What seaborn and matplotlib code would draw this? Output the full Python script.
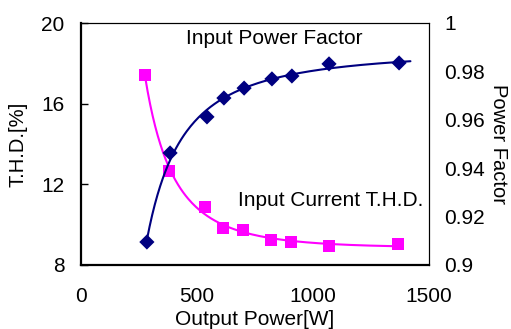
import numpy as np
import pandas as pd
import seaborn as sns
import matplotlib
matplotlib.use("Agg")
import matplotlib.pyplot as plt

# values
thd_power = [276, 379, 534, 612, 698, 819, 905, 1069, 1366]
thd_value = [17.4, 12.66, 10.88, 9.83, 9.73, 9.24, 9.14, 8.94, 9.04]
pf_power = [284, 384, 543, 616, 703, 823, 909, 1069, 1371]
pf_value = [0.9095, 0.9463, 0.9612, 0.969, 0.9731, 0.9769, 0.9781, 0.9831, 0.9835]

x_ticks = [0, 500, 1000, 1500]
thd_ticks = [8, 12, 16, 20]
pf_ticks = [0.9, 0.92, 0.94, 0.96, 0.98, 1]

NAVY = "#000080"
PINK = "#FF00FF"

sns.set_theme(style="white")
plt.rcParams["font.family"] = ["Liberation Sans", "DejaVu Sans"]
plt.rcParams.update({"text.color": "black", "axes.labelcolor": "black",
                     "xtick.color": "black", "ytick.color": "black"})

thd = pd.DataFrame({"power": thd_power, "thd": thd_value})
pf = pd.DataFrame({"power": pf_power, "pf": pf_value})

# trend curves fitted to the points
c1 = np.polyfit(1.0 / thd["power"], thd["thd"], 2)
xs1 = np.linspace(thd["power"].min(), thd["power"].max(), 200)
trend_thd = pd.DataFrame({"power": xs1, "thd": np.polyval(c1, 1.0 / xs1)})

c2 = np.polyfit(1.0 / pf["power"], pf["pf"], 2)
xs2 = np.linspace(pf["power"].min(), 1420, 200)
trend_pf = pd.DataFrame({"power": xs2, "pf": np.polyval(c2, 1.0 / xs2)})

fig = plt.figure(figsize=(5.11, 3.29), dpi=100)
ax = fig.add_axes([81 / 511, 64 / 329, 348 / 511, 242 / 329])
ax2 = ax.twinx()

sns.lineplot(data=trend_thd, x="power", y="thd", ax=ax, color=PINK, lw=1.5)
sns.scatterplot(data=thd, x="power", y="thd", ax=ax, marker="s", s=75,
                color=PINK, edgecolor="none", zorder=3)
sns.lineplot(data=trend_pf, x="power", y="pf", ax=ax2, color=NAVY, lw=1.5)
sns.scatterplot(data=pf, x="power", y="pf", ax=ax2, marker="D", s=60,
                color=NAVY, edgecolor="none", zorder=3)

ax.set_xlim(0, 1500)
ax.set_ylim(8, 20)
ax2.set_ylim(0.9, 1.0)
ax.set_xticks(x_ticks)
ax.set_yticks(thd_ticks)
ax2.set_yticks(pf_ticks)
ax2.set_yticklabels([f"{t:g}" for t in pf_ticks])

for a in (ax, ax2):
    for s in a.spines.values():
        s.set_color("black")
        s.set_linewidth(0.8)
ax.spines["left"].set_linewidth(1.6)
ax.spines["bottom"].set_linewidth(1.6)
ax2.spines["left"].set_visible(False)
ax2.spines["bottom"].set_visible(False)

ax.tick_params(axis="x", direction="in", length=5, width=1, pad=16, labelsize=15)
ax.tick_params(axis="y", direction="in", length=5, width=1, pad=12, labelsize=15)
ax2.tick_params(axis="y", length=0, pad=11, labelsize=15)

ax.set_xlabel("Output Power[W]", fontsize=15)
ax.set_ylabel("T.H.D.[%]", fontsize=14.5)
ax2.set_ylabel("Power Factor", fontsize=14.5, rotation=270, va="bottom")
ax.xaxis.set_label_coords(0.5, -0.185)
ax.yaxis.set_label_coords(-0.155, 0.5)
ax2.yaxis.set_label_coords(1.172, 0.5)

ax.text(0.555, 0.938, "Input Power Factor", transform=ax.transAxes,
        ha="center", va="center", fontsize=15)
ax.text(0.717, 0.265, "Input Current T.H.D.", transform=ax.transAxes,
        ha="center", va="center", fontsize=15)

fig.savefig("out.png", dpi=100)
